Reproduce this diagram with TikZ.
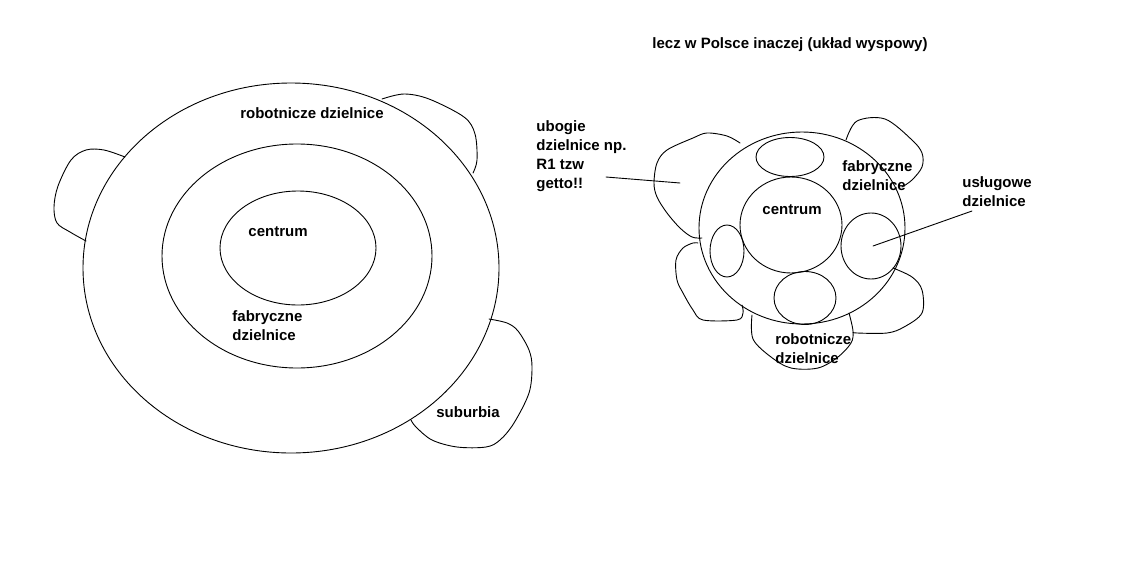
\documentclass[tikz,border=0pt]{standalone}
\usepackage{fontspec}
\setmainfont{Liberation Sans}
\tikzset{paint/.style={
  x=1pt,y=-1pt,
  line width=0.9pt,line join=round,line cap=round,
  every node/.style={font=\bfseries\fontsize{15}{19}\selectfont,inner sep=0pt,align=left}
},
blob/.style={smooth,tension=0.55}}

\begin{document}
\begin{tikzpicture}[paint]
  \useasboundingbox (0,0) rectangle (1138,560);
  % left: concentric model
  \coordinate (L1) at (291,268);
  \coordinate (L2) at (297,256);
  \coordinate (L3) at (298,248);
  \draw (L1) ellipse [x radius=208,y radius=185];
  \draw (L2) ellipse [x radius=135,y radius=112];
  \draw (L3) ellipse [x radius=78,y radius=57];
  \draw plot[blob] coordinates {(125,157) (104,150) (86,150) (71,160) (58,186) (54,207) (57,223) (70,232) (86,241)};
  \draw plot[blob] coordinates {(382,99) (404,94) (429,99) (464,117) (475,134) (477,160) (473,173)};
  \draw plot[blob] coordinates {(489,319) (507,323) (518,331) (529,350) (532,367) (529,393) (514,423) (500,440) (486,447) (457,447) (432,440) (416,427) (411,420)};
  \node (lrob) at (312,113) {robotnicze dzielnice};
  \node (lcen) at (278,232) {centrum};
  \node[anchor=west] (lfab) at (232,325.5) {fabryczne\\dzielnice};
  \node (lsub) at (468,412) {suburbia};
  % right: island model
  \node (title) at (790,45) {lecz w Polsce inaczej (układ wyspowy)};
  \coordinate (R) at (802,228);
  \coordinate (Rc) at (791,225);
  \coordinate (Rt) at (790,157);
  \coordinate (Rl) at (727,251);
  \coordinate (Rr) at (871,246);
  \coordinate (Rb) at (805,298);
  \draw (R) ellipse [x radius=103,y radius=96];
  \draw (Rc) ellipse [x radius=51,y radius=48];
  \draw (Rt) ellipse [x radius=34,y radius=19.5];
  \draw (Rl) ellipse [x radius=17,y radius=26];
  \draw (Rr) ellipse [x radius=30,y radius=33];
  \draw (Rb) ellipse [x radius=31,y radius=26.5];
  \draw plot[blob] coordinates {(740,143) (727,136) (707,133) (693,138) (667,150) (657,163) (654,183) (657,197) (667,213) (680,228) (692,237) (702,238)};
  \draw plot[blob] coordinates {(698,243) (693,243) (683,248) (676,260) (677,280) (683,293) (693,310) (703,320) (737,320) (743,313) (742,305)};
  \draw plot[blob] coordinates {(752,315) (753,339) (771,357) (791,368) (818,368) (838,357) (851,343) (853,331) (849,313)};
  \draw plot[blob] coordinates {(893,268) (912,277) (922,290) (922,313) (904,327) (887,333) (857,333) (853,332)};
  \draw plot[blob] coordinates {(846,140) (857,121) (885,119) (912,140) (922,153) (922,167) (912,180) (902,187)};
  \node (rcen) at (792,210) {centrum};
  \node[anchor=west] (rfab) at (842,175.5) {fabryczne\\dzielnice};
  \node[anchor=west] (rrob) at (775,349) {robotnicze\\dzielnice};
  \node[anchor=west] (rusl) at (962,191.5) {usługowe\\dzielnice};
  \node[anchor=west] (rubo) at (536,156.5) {ubogie\\dzielnice np.\\R1 tzw\\getto!!};
  \coordinate (uboA) at (606,177);
  \coordinate (uboB) at (680,183);
  \coordinate (uslA) at (972,211);
  \coordinate (uslB) at (873,246);
  \draw (uboA) -- (uboB);
  \draw (uslA) -- (uslB);
\end{tikzpicture}
\end{document}
